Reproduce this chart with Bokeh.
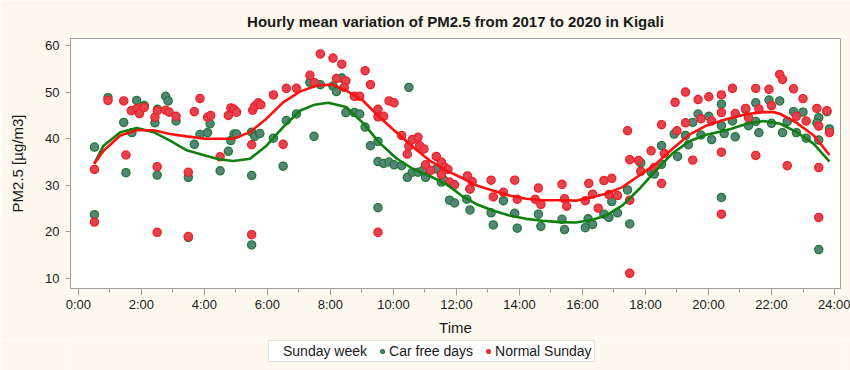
from bokeh.plotting import figure
from bokeh.models import FixedTicker, Legend, LegendItem
from bokeh.layouts import column
from bokeh.embed import file_html
from bokeh.resources import INLINE

title_text = "Hourly mean variation of PM2.5 from 2017 to 2020 in Kigali"
x_ticks = [0, 2, 4, 6, 8, 10, 12, 14, 16, 18, 20, 22, 24]
x_tick_labels = ["0:00", "2:00", "4:00", "6:00", "8:00", "10:00", "12:00",
                 "14:00", "16:00", "18:00", "20:00", "22:00", "24:00"]
y_ticks = [10, 20, 30, 40, 50, 60]

# Car free days (scatter)
car_free_hour = [0.51, 0.51, 0.94, 1.44, 1.51, 1.85, 2.09, 1.70, 2.43, 2.51, 2.50, 2.77, 2.85, 3.10,
                 3.49, 3.49, 3.68, 3.86, 4.18, 4.10, 4.50, 4.76, 4.84, 4.94, 5.02, 5.50, 5.50, 5.50,
                 5.60, 5.76, 6.19, 6.50, 6.60, 6.92, 7.35, 7.48, 7.68, 8.08, 8.36, 8.19, 8.49, 8.76,
                 8.93, 9.10, 9.27, 9.51, 9.51, 10.49, 9.51, 9.69, 9.86, 10.02, 10.26, 10.44, 10.60,
                 10.78, 10.94, 11.02, 11.36, 11.52, 11.62, 11.78, 11.94, 12.43, 12.33, 12.43, 13.10,
                 13.17, 13.49, 13.85, 13.93, 14.60, 14.68, 15.35, 15.43, 16.18, 16.09, 16.32, 16.68,
                 16.84, 16.93, 17.11, 17.43, 17.50, 17.85, 18.18, 18.28, 18.51, 18.51, 18.91, 19.02,
                 19.27, 19.36, 19.50, 19.67, 19.76, 20.01, 20.10, 20.41, 20.41, 20.41, 20.50, 20.76,
                 20.85, 21.18, 21.27, 21.50, 21.50, 21.60, 21.92, 22.00, 22.26, 22.35, 22.50, 22.70,
                 22.79, 23.00, 23.10, 23.50, 23.44, 23.50, 23.50, 23.76, 23.84]
car_free_pm = [38.2, 23.7, 48.8, 43.5, 32.7, 48.2, 47.1, 41.3, 43.4, 46.3, 32.2, 49.1, 48.1, 43.8,
               31.7, 18.8, 38.8, 40.9, 43.2, 41.3, 33.1, 37.3, 39.6, 41.0, 41.0, 32.1, 17.2, 41.4,
               40.5, 41.1, 40.1, 34.1, 43.9, 45.3, 52.1, 40.5, 51.6, 51.3, 53.0, 50.1, 45.6, 45.6,
               45.3, 42.5, 38.5, 39.4, 25.2, 51.0, 35.1, 34.7, 35.0, 34.4, 34.2, 31.7, 32.8,
               32.8, 33.2, 31.7, 33.5, 30.7, 31.0, 26.8, 26.2, 29.2, 27.0, 24.7, 24.1,
               21.5, 26.7, 24.0, 20.8, 23.8, 21.2, 22.7, 20.5, 22.8, 20.9, 21.6, 23.8,
               23.1, 26.5, 24.1, 29.0, 21.7, 34.8, 32.8, 32.4, 38.5, 34.5, 41.0, 36.2,
               40.7, 38.7, 43.5, 45.3, 40.8, 44.8, 39.8, 47.4, 42.8, 27.4, 41.1, 43.8,
               40.4, 46.3, 42.8, 47.7, 43.7, 41.3, 48.3, 43.3, 48.1, 41.3, 43.7, 45.8,
               41.3, 45.7, 40.1, 44.5, 43.4, 39.7, 16.2, 45.8, 42.1]

# Normal Sunday (scatter)
normal_hour = [0.51, 0.51, 0.94, 1.44, 1.51, 1.68, 1.86, 1.94, 2.09, 2.43, 2.51, 2.50, 2.50, 2.77,
               2.88, 3.10, 3.49, 3.49, 3.68, 3.86, 4.10, 4.20, 4.50, 4.76, 4.84, 4.94, 5.02, 5.50,
               5.50, 5.53, 5.60, 5.71, 5.79, 6.19, 6.50, 6.60, 6.92, 7.35, 7.50, 7.68, 8.08, 8.36,
               8.19, 8.49, 8.44, 9.10, 9.27, 8.76, 8.93, 9.51, 9.51, 9.69, 9.51, 9.86, 10.02, 10.26,
               10.49, 10.44, 10.60, 10.78, 10.83, 10.97, 11.02, 11.18, 11.36, 11.52, 11.52, 11.62,
               11.73, 11.78, 11.94, 12.35, 12.50, 12.43, 13.10, 13.17, 13.49, 13.85, 13.93, 14.60,
               14.50, 14.68, 15.35, 15.43, 15.50, 16.20, 16.09, 16.32, 16.50, 16.68, 16.93, 16.84,
               17.11, 17.43, 17.50, 17.50, 17.50, 17.78, 17.85, 18.18, 18.28, 18.51, 18.51, 18.60,
               18.94, 19.00, 19.27, 19.27, 19.50, 19.67, 19.76, 20.01, 20.10, 20.41, 20.41, 20.41,
               20.41, 20.76, 20.85, 21.18, 21.27, 21.50, 21.60, 21.50, 21.92, 22.00, 22.26, 22.35,
               22.50, 22.70, 22.79, 23.00, 23.10, 23.44, 23.50, 23.50, 23.50, 23.76, 23.84]
normal_pm = [33.4, 22.1, 48.2, 48.1, 36.5, 46.0, 46.5, 45.4, 46.7, 44.6, 46.0, 34.0, 19.9, 46.1,
             45.7, 44.8, 32.8, 19.0, 45.8, 48.6, 44.6, 45.0, 36.1, 45.0, 46.6, 46.3, 45.7, 38.7,
             19.4, 46.1, 47.0, 47.7, 47.3, 49.4, 38.8, 50.8, 50.8, 53.6, 52.0, 58.2, 57.3, 56.0,
             52.9, 52.4, 51.0, 54.6, 51.6, 49.1, 49.1, 46.3, 44.7, 44.8, 19.9, 48.1, 47.7, 40.7,
             38.4, 36.7, 39.8, 40.3, 38.5, 37.8, 34.4, 33.2, 36.2, 35.0, 32.3, 33.9,
             33.4, 30.7, 30.1, 32.0, 30.8, 29.2, 31.1, 27.5, 28.5, 31.1, 27.0, 29.4,
             27.0, 25.9, 30.2, 27.1, 25.5, 30.4, 26.7, 28.1, 25.1, 31.0, 31.5, 28.0,
             27.8, 41.7, 35.5, 26.8, 11.1, 35.3, 33.0, 37.4, 33.8, 43.0, 30.4, 36.8,
             47.8, 41.7, 50.0, 43.4, 35.4, 48.4, 44.3, 49.0, 43.8, 49.4, 45.6, 37.1,
             23.8, 50.8, 45.4, 46.5, 44.5, 50.8, 46.4, 36.4, 50.6, 47.1, 53.8, 52.7,
             34.2, 50.7, 44.8, 48.6, 43.8, 46.5, 42.7, 33.8, 23.1, 46.0, 41.3]

# Smoothed curves
car_free_fit_hour = [0.5, 0.8, 1.33, 1.86, 2.39, 2.91, 3.44, 4.02, 4.45, 4.92, 5.45, 5.97, 6.5, 7.03,
                     7.5, 7.93, 8.5, 9.03, 9.56, 10.09, 10.62, 11.15, 11.67, 12.2, 12.62, 13.15,
                     13.68, 14.21, 14.73, 15.26, 15.79, 16.32, 16.74, 17.27, 17.8, 18.33, 18.85,
                     19.38, 19.9, 20.43, 20.7, 21.22, 21.75, 22.28, 22.8, 23.34, 23.84]
car_free_fit = [34.6, 38.5, 41.4, 42.3, 41.4, 39.6, 37.5, 36.4, 35.6, 35.2, 35.7, 38.5, 42.5, 46.0,
                47.3, 47.7, 46.8, 43.4, 39.1, 35.8, 33.5, 32.0, 30.3, 27.6, 26.0, 24.6,
                23.5, 22.8, 22.4, 22.1, 22.0, 22.6, 23.5, 25.7, 29.2, 33.2, 36.8,
                39.4, 40.8, 41.6, 42.1, 43.2, 43.8, 43.2, 41.4, 38.9, 35.1]
normal_fit_hour = [0.5, 0.8, 1.33, 1.86, 2.39, 2.91, 3.44, 4.02, 4.5, 4.92, 5.45, 5.97, 6.5, 7.03,
                   7.56, 8.08, 8.5, 9.03, 9.56, 10.09, 10.62, 11.15, 11.67, 12.2, 12.62, 13.15,
                   13.68, 14.21, 14.73, 15.26, 15.79, 16.21, 16.74, 17.27, 17.8, 18.33, 18.85,
                   19.38, 19.9, 20.43, 20.7, 21.22, 21.75, 22.07, 22.28, 22.8, 23.34, 23.84]
normal_fit = [34.6, 37.4, 40.7, 41.8, 41.8, 41.0, 40.5, 40.0, 40.0, 40.0, 41.4, 44.3, 47.8, 50.1,
              51.4, 51.6, 50.3, 48.2, 44.6, 41.4, 38.2, 35.3, 33.2, 31.5, 30.0, 28.9,
              27.8, 27.1, 26.8, 26.8, 26.7, 27.3, 28.2, 29.6, 32.1, 34.6, 37.8,
              40.8, 42.7, 43.9, 44.4, 45.3, 45.7, 45.7, 45.3, 43.4, 40.7, 36.5]

legend_title = "Sunday week"
series_names = ["Car free days", "Normal Sunday"]

FONT = "Liberation Sans"
TXT = "#1a1a1a"
GRAY = "#a0a0a0"
CREAM = "#fdf9ee"
GREEN_FILL, GREEN_LINE = "#568478", "#1f7a35"
RED_FILL, RED_LINE = "#e2434d", "#f0202a"

p = figure(width=850, height=340, output_backend="svg", toolbar_location=None,
           x_range=(-0.25, 24.19), y_range=(7.85, 61.5),
           min_border_left=70, min_border_right=10, min_border_top=38, min_border_bottom=52,
           background_fill_color="white", border_fill_color=CREAM,
           title=title_text)

p.title.text_font = FONT
p.title.text_font_size = "15px"
p.title.text_font_style = "bold"
p.title.text_color = TXT
p.title.align = "center"
p.title.standoff = 18

p.outline_line_color = GRAY
p.outline_line_width = 1
p.grid.visible = False

p.xaxis.ticker = FixedTicker(ticks=x_ticks, minor_ticks=list(range(0, 25)))
p.xaxis.major_label_overrides = {t: l for t, l in zip(x_ticks, x_tick_labels)}
p.yaxis.ticker = FixedTicker(ticks=y_ticks, minor_ticks=[])
p.xaxis.axis_label = "Time"
p.yaxis.axis_label = "PM2.5 [µg/m3]"

for ax in (p.xaxis[0], p.yaxis[0]):
    ax.axis_line_color = GRAY
    ax.major_tick_line_color = GRAY
    ax.minor_tick_line_color = GRAY
    ax.major_tick_in = 0
    ax.minor_tick_in = 0
    ax.major_label_text_font = FONT
    ax.major_label_text_font_size = "13px"
    ax.major_label_text_color = TXT
    ax.axis_label_text_font = FONT
    ax.axis_label_text_font_size = "15px"
    ax.axis_label_text_font_style = "normal"
    ax.axis_label_text_color = TXT

p.xaxis.major_tick_out = 7
p.xaxis.minor_tick_out = 4
p.xaxis.major_label_standoff = 1
p.xaxis.axis_label_standoff = 4
p.yaxis.major_tick_out = 5
p.yaxis.minor_tick_out = 0
p.yaxis.major_label_standoff = 6
p.yaxis.axis_label_standoff = 16

p.scatter(car_free_hour, car_free_pm, size=8.2, fill_color=GREEN_FILL, fill_alpha=1,
          line_color=GREEN_LINE, line_width=1.3)
p.scatter(normal_hour, normal_pm, size=8.2, fill_color=RED_FILL, fill_alpha=1,
          line_color=RED_LINE, line_width=1.3)
p.line(car_free_fit_hour, car_free_fit, line_color="#0d800d", line_width=2.6)
p.line(normal_fit_hour, normal_fit, line_color="#ff1010", line_width=2.6)

# Legend strip below the chart (its proxy glyphs sit outside the strip's visible range)
lg = figure(width=850, height=30, output_backend="svg", toolbar_location=None,
            x_range=(0, 1), y_range=(0, 1),
            min_border_left=0, min_border_right=0, min_border_top=0, min_border_bottom=0,
            background_fill_color=CREAM, border_fill_color=CREAM, outline_line_color=None)
lg.axis.visible = False
lg.grid.visible = False
dummy = lg.scatter(car_free_hour[:1], car_free_pm[:1], size=1, fill_alpha=0, line_alpha=0)
lg_g = lg.scatter(car_free_hour[:1], car_free_pm[:1], size=7, fill_color=GREEN_FILL,
                  line_color=GREEN_LINE, line_width=1.2)
lg_r = lg.scatter(normal_hour[:1], normal_pm[:1], size=7, fill_color=RED_FILL,
                  line_color=RED_LINE, line_width=1.2)

legend = Legend(items=[LegendItem(label=legend_title, renderers=[dummy]),
                       LegendItem(label=series_names[0], renderers=[lg_g]),
                       LegendItem(label=series_names[1], renderers=[lg_r])],
                orientation="horizontal", location=(198, 8))
legend.label_text_font = FONT
legend.label_text_font_size = "14px"
legend.label_text_color = TXT
legend.border_line_color = "#c8c8c8"
legend.background_fill_color = "white"
legend.background_fill_alpha = 1
legend.padding = 2
legend.margin = 0
legend.spacing = 10
legend.glyph_width = 10
legend.glyph_height = 14
legend.label_height = 14
legend.label_standoff = 2
lg.add_layout(legend)

layout = column(p, lg, spacing=0)
open("out.html", "w").write(file_html(layout, INLINE))
